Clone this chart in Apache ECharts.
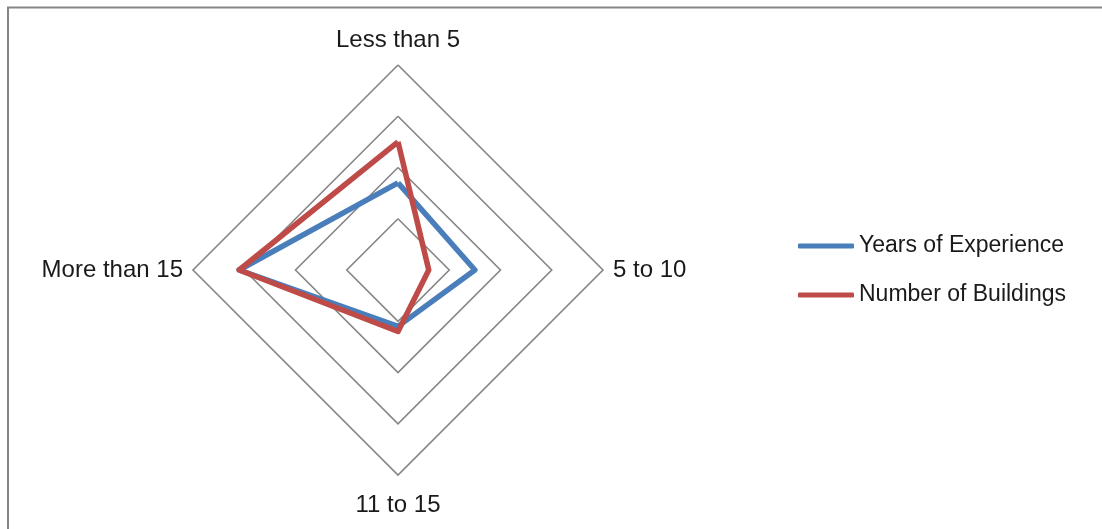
<!DOCTYPE html>
<html>
<head>
<meta charset="utf-8">
<title>Radar chart</title>
<script src="https://cdn.jsdelivr.net/npm/echarts@6/dist/echarts.min.js"></script>
<style>
  html, body { margin: 0; padding: 0; background: #ffffff; }
  #chart { width: 1102px; height: 529px; }
</style>
</head>
<body>
<div id="chart"></div>
<script>
// Categories listed clockwise starting from the top of the radar
const categories = ['Less than 5', '5 to 10', '11 to 15', 'More than 15'];
const yearsOfExperience = [17, 15, 11, 31];
const numberOfBuildings = [25, 6, 12, 31];
const seriesNames = ['Years of Experience', 'Number of Buildings'];
const axisMax = 40;

// ECharts lays indicators out counter-clockwise, so walk the list
// in reverse after the first entry to keep them clockwise.
const order = [0].concat(categories.slice(1).map((_, i) => categories.length - 1 - i));
const reorder = arr => order.map(i => arr[i]);

const FONT = '"Liberation Sans", Arial, sans-serif';
const chart = echarts.init(document.getElementById('chart'));

chart.setOption({
  backgroundColor: '#ffffff',
  animation: false,
  graphic: [{
    type: 'rect',
    shape: { x: 8, y: 7.5, width: 1200, height: 600 },
    style: { fill: 'none', stroke: '#868686', lineWidth: 2 },
    silent: true
  }],
  legend: {
    orient: 'vertical',
    left: 798,
    top: 232,
    padding: 0,
    itemWidth: 56,
    itemHeight: 5,
    itemGap: 21,
    icon: 'roundRect',
    data: seriesNames,
    textStyle: { fontFamily: FONT, fontSize: 23, color: '#1a1a1a', lineHeight: 28 }
  },
  radar: {
    center: [398, 270],
    radius: 205,
    shape: 'polygon',
    splitNumber: 4,
    startAngle: 90,
    nameGap: 10,
    axisName: {
      fontFamily: FONT,
      fontSize: 24,
      color: '#1a1a1a',
      padding: [8, 0, 3, 0]
    },
    indicator: reorder(categories).map(name => ({ name: name, min: 0, max: axisMax })),
    axisLine: { show: false },
    axisTick: { show: false },
    axisLabel: { show: false },
    splitArea: { show: false },
    splitLine: { lineStyle: { color: '#868686', width: 1.6 } }
  },
  series: [{
    type: 'radar',
    symbol: 'none',
    data: [
      {
        name: seriesNames[0],
        value: reorder(yearsOfExperience),
        lineStyle: { color: '#4A7EBB', width: 5.5, join: 'round' },
        itemStyle: { color: '#4A7EBB' }
      },
      {
        name: seriesNames[1],
        value: reorder(numberOfBuildings),
        lineStyle: { color: '#BE4B48', width: 5.5, join: 'round' },
        itemStyle: { color: '#BE4B48' }
      }
    ]
  }]
});
</script>
</body>
</html>
